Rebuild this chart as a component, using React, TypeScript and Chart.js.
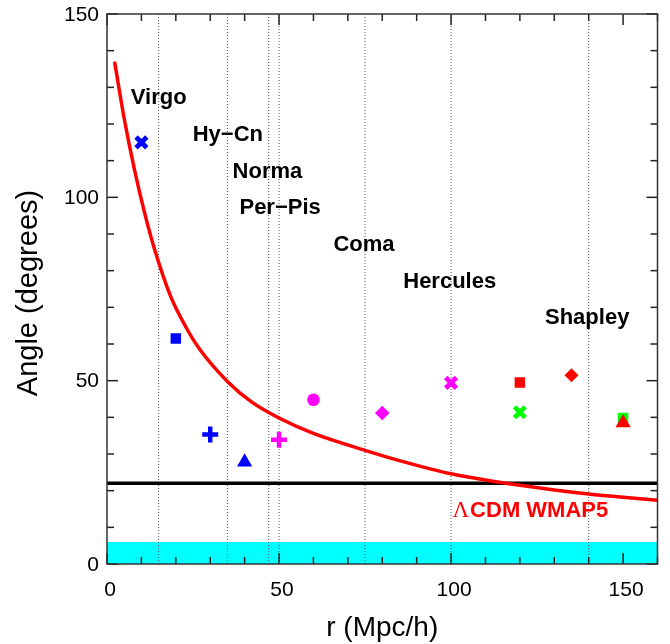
import React, { useEffect, useRef } from "react";
import { Chart, registerables } from "chart.js";

Chart.register(...registerables);

// ---------- data ----------
const clusterNames = ["Virgo", "Hy\u2212Cn", "Norma", "Per\u2212Pis", "Coma", "Hercules", "Shapley"];
const clusterRadii = [15, 35, 47, 50, 75, 100, 140];
// label anchors (data units: r, angle)
const clusterLabelR = [6.9, 24.9, 36.5, 38.5, 65.8, 86.1, 127.3];
const clusterLabelAngle = [127, 117, 107, 97, 87, 77, 67];

const measR = [10, 20, 30, 40, 50, 60, 80, 100, 120, 120, 135, 150, 150];
const measAngle = [115, 61.5, 35.3, 27.8, 33.9, 44.8, 41.2, 49.4, 49.5, 41.4, 51.5, 39.8, 38.5];

const lcdmR = [2.2, 5, 8, 11, 14, 18.5, 23, 27, 35, 42, 50, 60, 75, 85, 100, 114, 130, 140, 150, 160];
const lcdmAngle = [137, 121.5, 107.5, 95.5, 85.3, 73, 64.5, 58.5, 49.8, 44.2, 39.8, 35.6, 31.0, 28.2, 24.6, 22.3, 20.2, 19.1, 18.2, 17.4];

const wmapLevel = 22;
const cyanBand = 6;

const xTickLabels = [0, 50, 100, 150];
const yTickLabels = [0, 50, 100, 150];
const xMax = 160;
const yMax = 150;
const minorStep = 10;

// ---------- styles ----------
const measStyle = ["crossRot", "rect", "cross", "triangle", "cross", "circle", "rectRot", "crossRot", "rect", "crossRot", "rectRot", "rect", "triangle"];
const measColor = ["#0000ff", "#0000ff", "#0000ff", "#0000ff", "#ff00ff", "#ff00ff", "#ff00ff", "#ff00ff", "#ff0000", "#00ff00", "#ff0000", "#00ff00", "#ff0000"];
const measSize = [7.6, 7.4, 8, 8.8, 8, 6.3, 7.3, 7.6, 7.4, 7.6, 7, 7.4, 8.8];

const SANS = '"Liberation Sans", Arial, Helvetica, sans-serif';
const SERIF = '"Liberation Serif", "Times New Roman", serif';

const decor = {
  id: "decor",
  afterDatasetsDraw(chart: any) {
    const { ctx, chartArea: a, scales } = chart;
    const x = scales.x;
    const y = scales.y;
    ctx.save();
    const seg = (x1: number, y1: number, x2: number, y2: number) => {
      ctx.beginPath();
      ctx.moveTo(x1, y1);
      ctx.lineTo(x2, y2);
      ctx.stroke();
    };
    ctx.strokeStyle = "#222";
    ctx.lineWidth = 1.5;
    for (let v = 0; v <= xMax; v += minorStep) {
      const px = x.getPixelForValue(v);
      const len = v % 50 === 0 ? 11 : 7;
      seg(px, a.bottom, px, a.bottom - len);
      seg(px, a.top, px, a.top + len);
    }
    for (let v = 0; v <= yMax; v += minorStep) {
      const py = y.getPixelForValue(v);
      const len = v % 50 === 0 ? 11 : 7;
      seg(a.left, py, a.left + len, py);
      seg(a.right, py, a.right - len, py);
    }
    ctx.strokeStyle = "#333";
    ctx.lineWidth = 1.5;
    ctx.strokeRect(a.left, a.top, a.right - a.left, a.bottom - a.top);

    // tick labels
    ctx.fillStyle = "#000";
    ctx.font = `21px ${SANS}`;
    ctx.textAlign = "right";
    ctx.textBaseline = "middle";
    yTickLabels.forEach((v) => ctx.fillText(String(v), a.left - 8, y.getPixelForValue(v) + 1));
    ctx.textAlign = "center";
    ctx.textBaseline = "alphabetic";
    xTickLabels.forEach((v) => ctx.fillText(String(v), x.getPixelForValue(v) + 3, a.bottom + 31.5));

    // axis titles
    ctx.font = `28px ${SANS}`;
    ctx.fillText("r (Mpc/h)", (a.left + a.right) / 2, 636);
    ctx.save();
    ctx.translate(37, (a.top + a.bottom) / 2 + 4);
    ctx.rotate(-Math.PI / 2);
    ctx.font = `29px ${SANS}`;
    ctx.fillText("Angle (degrees)", 0, 0);
    ctx.restore();

    // cluster names
    ctx.font = `bold 22px ${SANS}`;
    ctx.textAlign = "left";
    ctx.textBaseline = "middle";
    clusterNames.forEach((n, i) => {
      ctx.fillText(n, x.getPixelForValue(clusterLabelR[i]), y.getPixelForValue(clusterLabelAngle[i]));
    });

    // model label
    ctx.fillStyle = "#ff0000";
    const lx = x.getPixelForValue(100.4);
    const ly = y.getPixelForValue(14.5);
    ctx.font = `23px ${SERIF}`;
    ctx.fillText("\u039B", lx, ly);
    const w = ctx.measureText("\u039B").width;
    ctx.font = `bold 22px ${SANS}`;
    ctx.fillText("CDM WMAP5", lx + w + 1, ly);
    ctx.restore();
  },
};

export default function App() {
  const ref = useRef<HTMLCanvasElement | null>(null);
  useEffect(() => {
    if (!ref.current) return;
    const datasets: any[] = [];
    datasets.push({
      type: "line",
      data: [{ x: 0, y: cyanBand }, { x: xMax, y: cyanBand }],
      borderWidth: 0,
      backgroundColor: "#00ffff",
      fill: "origin",
      pointRadius: 0,
      order: 20,
    });
    clusterRadii.forEach((r) => {
      datasets.push({
        type: "line",
        data: [{ x: r, y: 0 }, { x: r, y: yMax }],
        borderColor: "#555",
        borderWidth: 1,
        borderDash: [1, 2],
        pointRadius: 0,
        fill: false,
        order: 15,
      });
    });
    datasets.push({
      type: "line",
      data: [{ x: 0, y: wmapLevel }, { x: xMax, y: wmapLevel }],
      borderColor: "#000",
      borderWidth: 3.5,
      pointRadius: 0,
      fill: false,
      order: 10,
    });
    datasets.push({
      type: "line",
      data: lcdmR.map((r, i) => ({ x: r, y: lcdmAngle[i] })),
      borderColor: "#ff0000",
      borderWidth: 3.5,
      pointRadius: 0,
      fill: false,
      cubicInterpolationMode: "monotone",
      order: 5,
    });
    datasets.push({
      type: "scatter",
      data: measR.map((r, i) => ({ x: r, y: measAngle[i] })),
      pointStyle: measStyle,
      pointRadius: measSize,
      backgroundColor: measColor,
      borderColor: measColor,
      borderWidth: measStyle.map((s) => (s === "cross" ? 4.5 : s === "crossRot" ? 4.8 : 0)),
      order: 1,
    });

    const chart = new Chart(ref.current, {
      type: "scatter",
      data: { datasets },
      options: {
        animation: false,
        responsive: false,
        devicePixelRatio: 1,
        layout: { padding: { left: 107, top: 14, right: 12, bottom: 80 } },
        plugins: { legend: { display: false }, tooltip: { enabled: false } },
        scales: {
          x: { type: "linear", min: 0, max: xMax, display: false },
          y: { type: "linear", min: 0, max: yMax, display: false },
        },
      } as any,
      plugins: [decor],
    });
    return () => chart.destroy();
  }, []);
  return (
    <div style={{ position: "absolute", left: 0, top: 0, width: 670, height: 644, background: "#fff" }}>
      <canvas ref={ref} width={670} height={644} />
    </div>
  );
}
